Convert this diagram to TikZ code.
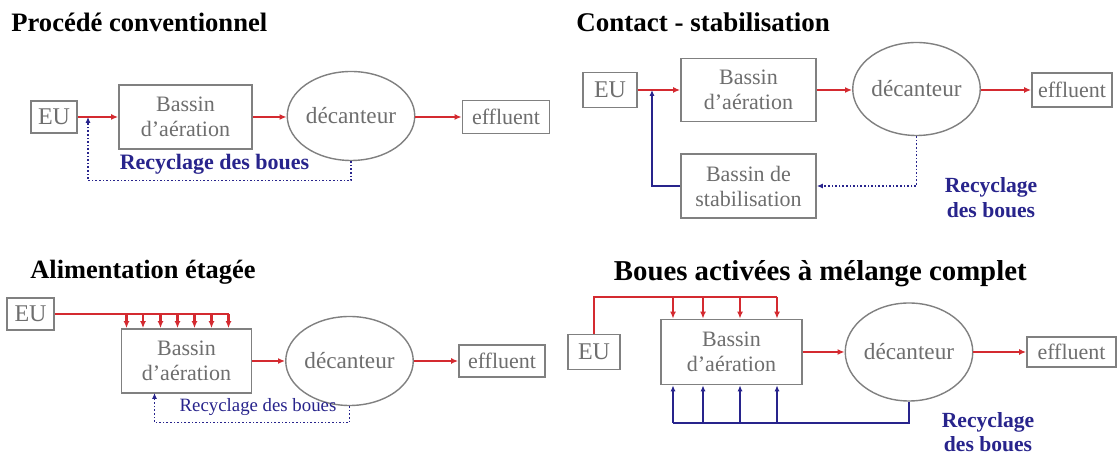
\documentclass[tikz,border=0pt]{standalone}
\usepackage{fontspec}
\setmainfont{Liberation Serif}
\usetikzlibrary{arrows.meta,shapes.geometric}
\definecolor{flowred}{RGB}{212,42,48}
\definecolor{sludgeblue}{RGB}{40,36,140}
\definecolor{framegray}{RGB}{128,128,128}
\definecolor{labelgray}{RGB}{110,110,110}
\tikzset{
  unit/.style={draw=framegray, line width=0.9pt, text=labelgray, inner sep=0pt,
    align=center, font=\fontsize{11}{12.5}\selectfont},
  settler/.style={ellipse, draw=framegray, line width=0.7pt, text=labelgray,
    inner sep=0pt, font=\fontsize{11.6}{13}\selectfont},
  heading/.style={anchor=base west, inner sep=0pt, font=\bfseries\fontsize{13.3}{16}\selectfont},
  feedline/.style={draw=flowred, line width=1.2pt},
  feed/.style={feedline, -{Latex[length=3.5pt,width=3pt]}},
  recycleline/.style={draw=sludgeblue, line width=0.8pt},
  recycle/.style={recycleline, -{Latex[length=3pt,width=2.6pt]}},
  recyclelabel/.style={text=sludgeblue, align=center, inner sep=0pt,
    font=\bfseries\fontsize{10.8}{12.5}\selectfont}
}
\begin{document}
\begin{tikzpicture}[x=0.5pt, y=-0.5pt]
  \useasboundingbox[fill=white] (0,0) rectangle (1119,458);

  % procede conventionnel
  \node[heading] (T1) at (11,32) {Procédé conventionnel};
  \node[unit, minimum width=23pt, minimum height=16pt, font=\fontsize{12}{13}\selectfont] (EU1) at (54,117) {EU};
  \node[unit, minimum width=66.5pt, minimum height=32pt] (Aer1) at (185.5,117) {Bassin\\d'aération};
  \node[settler, minimum width=49pt, minimum height=44.5pt] (Dec1) at (351,116) {décanteur};
  \node[unit, minimum width=43.5pt, minimum height=16.5pt] (Eff1) at (506,117) {effluent};
  \coordinate (J1) at (88,117);
  \draw[feed] (EU1) -- (Aer1);
  \draw[feed] (Aer1.east) -- (Aer1.east -| Dec1.west);
  \draw[feed] (Dec1.east |- Eff1.west) -- (Eff1.west);
  \draw[recycle, densely dotted] (Dec1.south) -- ++(0,19.5) -| (J1);
  \node[recyclelabel, font=\bfseries\fontsize{11}{12.5}\selectfont] (R1) at (214.5,164) {Recyclage des boues};

  % contact - stabilisation
  \node[heading, font=\bfseries\fontsize{13.5}{16}\selectfont] (T2) at (576,32) {Contact - stabilisation};
  \node[unit, minimum width=27pt, minimum height=17.5pt, font=\fontsize{12}{13}\selectfont] (EU2) at (610,90) {EU};
  \node[unit, minimum width=67.5pt, minimum height=31.5pt] (Aer2) at (748.5,90) {Bassin\\d'aération};
  \node[settler, minimum width=50pt, minimum height=46.5pt] (Dec2) at (916.5,89) {décanteur};
  \node[unit, minimum width=40pt, minimum height=17pt] (Eff2) at (1072,90) {effluent};
  \node[unit, minimum width=67.5pt, minimum height=32pt] (Stab2) at (748.5,186) {Bassin de\\stabilisation};
  \coordinate (J2) at (652,90);
  \draw[feed] (EU2) -- (Aer2);
  \draw[feed] (Aer2.east) -- (Aer2.east -| Dec2.west);
  \draw[feed] (Dec2.east |- Eff2.west) -- (Eff2.west);
  \draw[recycle, densely dotted] (Dec2.south) |- (Stab2.east);
  \draw[recycle] (Stab2.west) -| (J2);
  \node[recyclelabel] (R2) at (991,197.5) {Recyclage\\des boues};

  % alimentation etagee
  \node[heading, font=\bfseries\fontsize{13.2}{16}\selectfont] (T3) at (30,279) {Alimentation étagée};
  \node[unit, minimum width=23.5pt, minimum height=16pt, font=\fontsize{12}{13}\selectfont] (EU3) at (30.5,314) {EU};
  \node[unit, minimum width=65pt, minimum height=32pt] (Aer3) at (186.5,361) {Bassin\\d'aération};
  \node[settler, minimum width=47.5pt, minimum height=44.5pt] (Dec3) at (349.5,361) {décanteur};
  \node[unit, minimum width=43pt, minimum height=16pt] (Eff3) at (502,361) {effluent};
  \coordinate (F3) at (228.5,314);
  \draw[feedline] (EU3.east) -- (F3);
  \foreach \x in {126.5,143,160.5,177.5,194.5,211.5,228.5}
    \draw[feed] (\x,0 |- F3) -- (\x,0 |- Aer3.north);
  \draw[feed] (Aer3) -- (Dec3);
  \draw[feed] (Dec3) -- (Eff3);
  \coordinate (B3) at (154.5,393);
  \draw[recycle, densely dotted] (Dec3.south) -- ++(0,16.5) -| (B3);
  \node[recyclelabel, font=\fontsize{9.4}{11}\selectfont] (R3) at (258,407) {Recyclage des boues};

  % boues activees a melange complet
  \node[heading, font=\bfseries\fontsize{14.4}{17}\selectfont] (T4) at (613.5,281) {Boues activées à mélange complet};
  \node[unit, minimum width=26pt, minimum height=17.5pt, font=\fontsize{12}{13}\selectfont] (EU4) at (594,352) {EU};
  \node[unit, minimum width=70.5pt, minimum height=32.5pt] (Aer4) at (731.5,352) {Bassin\\d'aération};
  \node[settler, minimum width=52pt, minimum height=49pt] (Dec4) at (909,352) {décanteur};
  \node[unit, minimum width=44.5pt, minimum height=15pt] (Eff4) at (1071.5,352) {effluent};
  \coordinate (F4) at (777,297);
  \draw[feedline] (EU4.north) |- (F4);
  \foreach \x in {673,703,740,777}
    \draw[feed] (\x,0 |- F4) -- (\x,0 |- Aer4.north);
  \draw[feed] (Aer4) -- (Dec4);
  \draw[feed] (Dec4) -- (Eff4);
  \coordinate (B4) at (673,423);
  \draw[recycleline] (Dec4.south) |- (B4);
  \foreach \x in {673,703,740,777}
    \draw[recycle] (\x,0 |- B4) -- (\x,0 |- Aer4.south);
  \node[recyclelabel, font=\bfseries\fontsize{10.8}{12}\selectfont] (R4) at (988,432) {Recyclage\\des boues};
\end{tikzpicture}
\end{document}
